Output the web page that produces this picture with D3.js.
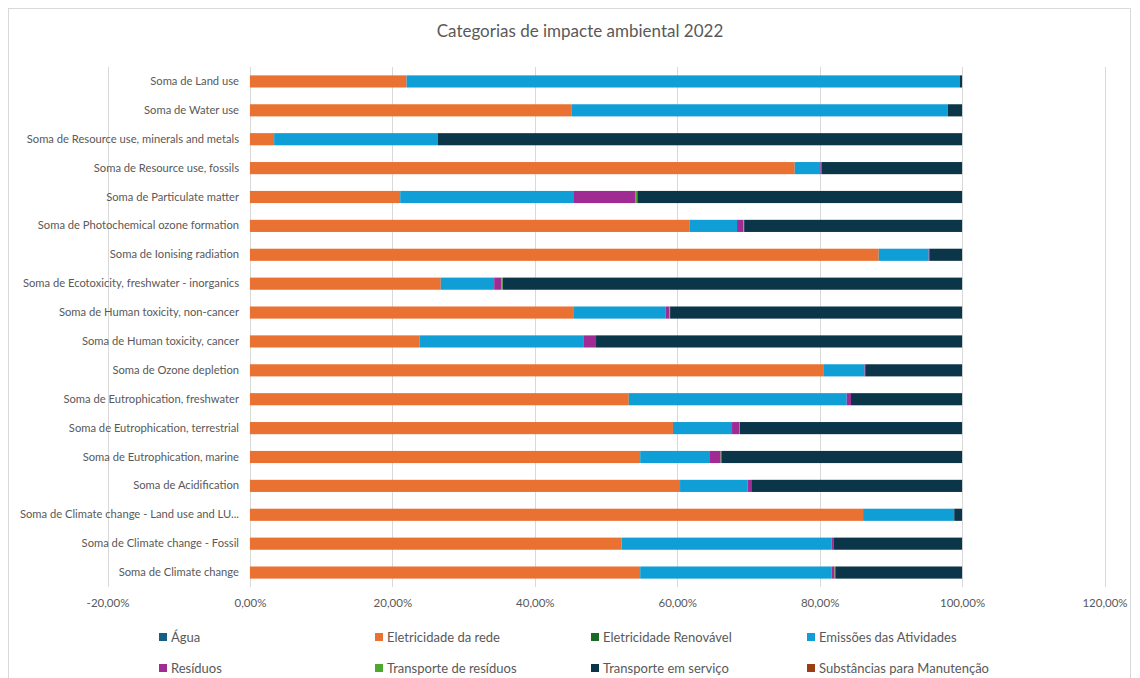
<!DOCTYPE html>
<html>
<head>
<meta charset="utf-8">
<script src="https://cdn.jsdelivr.net/npm/d3@7"></script>
<style>
  body { margin: 0; background: #fff; }
  svg { font-family: Lato, "Noto Sans", sans-serif; }
  .tick text { fill: #595959; }
</style>
</head>
<body>
<svg width="1140" height="678"></svg>
<script>
var categories = [
  "Soma de Land use",
  "Soma de Water use",
  "Soma de Resource use, minerals and metals",
  "Soma de Resource use, fossils",
  "Soma de Particulate matter",
  "Soma de Photochemical ozone formation",
  "Soma de Ionising radiation",
  "Soma de Ecotoxicity, freshwater - inorganics",
  "Soma de Human toxicity, non-cancer",
  "Soma de Human toxicity, cancer",
  "Soma de Ozone depletion",
  "Soma de Eutrophication, freshwater",
  "Soma de Eutrophication, terrestrial",
  "Soma de Eutrophication, marine",
  "Soma de Acidification",
  "Soma de Climate change - Land use and LU...",
  "Soma de Climate change - Fossil",
  "Soma de Climate change"
];

var seriesNames = ["Água", "Eletricidade da rede", "Eletricidade Renovável", "Emissões das Atividades",
  "Resíduos", "Transporte de resíduos", "Transporte em serviço", "Substâncias para Manutenção"];
var seriesColors = ["#156082", "#E97132", "#196B24", "#0F9ED5", "#A02B93", "#4EA72E", "#0B3649", "#9A3E12"];

// percentages, in category order
var agua        = [0, 0, 0, 0, 0, 0, 0, 0, 0, 0, 0, 0, 0, 0, 0, 0, 0, 0];
var eletRede    = [22.0, 45.2, 3.4, 76.5, 21.1, 61.7, 88.3, 26.8, 45.4, 23.8, 80.6, 53.2, 59.4, 54.8, 60.4, 86.1, 52.2, 54.8];
var eletRenov   = [0, 0, 0, 0, 0, 0, 0, 0, 0, 0, 0, 0, 0, 0, 0, 0, 0, 0];
var emissoes    = [77.7, 52.8, 23.0, 3.6, 24.3, 6.7, 7.0, 7.5, 13.0, 23.1, 5.7, 30.6, 8.3, 9.7, 9.5, 12.8, 29.5, 26.9];
var residuos    = [0, 0, 0, 0.2, 8.7, 0.9, 0.1, 1.0, 0.5, 1.7, 0.1, 0.6, 1.0, 1.6, 0.6, 0, 0.3, 0.4];
var transpRes   = [0, 0, 0, 0, 0.3, 0.1, 0, 0.2, 0.1, 0, 0, 0, 0.1, 0.1, 0, 0, 0, 0.1];
var transpServ  = [0.3, 2.0, 73.6, 19.7, 45.6, 30.6, 4.6, 64.5, 41.0, 51.4, 13.6, 15.6, 31.2, 33.8, 29.5, 1.1, 18.0, 17.8];
var substancias = [0, 0, 0, 0, 0, 0, 0, 0, 0, 0, 0, 0, 0, 0, 0, 0, 0, 0];

var xTicks = [-20, 0, 20, 40, 60, 80, 100, 120];

var seriesValues = [agua, eletRede, eletRenov, emissoes, residuos, transpRes, transpServ, substancias];

var svg = d3.select("svg");

// chart area border
svg.append("rect")
    .attr("x", 8.5).attr("y", 8.5)
    .attr("width", 1122).attr("height", 680)
    .attr("fill", "none")
    .attr("stroke", "#d9d9d9");

svg.append("text")
    .attr("x", 580).attr("y", 37)
    .attr("text-anchor", "middle")
    .attr("font-size", 17)
    .attr("fill", "#595959")
    .text("Categorias de impacte ambiental 2022");

var x = d3.scaleLinear().domain([-20, 120]).range([107.5, 1104.5]);
var y = d3.scaleBand().domain(categories).range([67, 587]).paddingInner(0.58).paddingOuter(0.29);

// gridlines
svg.append("g")
  .selectAll("line")
  .data(xTicks)
  .join("line")
    .attr("x1", function(d) { return Math.round(x(d)) + 0.5; })
    .attr("x2", function(d) { return Math.round(x(d)) + 0.5; })
    .attr("y1", 67).attr("y2", 587)
    .attr("stroke", "#d9d9d9");

var xAxis = svg.append("g")
    .attr("transform", "translate(0,592)")
    .call(d3.axisBottom(x).tickValues(xTicks).tickSize(0)
      .tickFormat(function(d) { return d.toFixed(2).replace(".", ",") + "%"; }));
xAxis.select(".domain").remove();
xAxis.selectAll("text").attr("font-size", 11.5).attr("font-family", "Lato, sans-serif").attr("dy", "1em");

var rows = categories.map(function(c, i) {
  var r = { cat: c };
  seriesNames.forEach(function(s, j) { r[s] = seriesValues[j][i]; });
  return r;
});
var stack = d3.stack().keys(seriesNames)(rows);

svg.append("g")
  .selectAll("g")
  .data(stack)
  .join("g")
    .attr("fill", function(d, i) { return seriesColors[i]; })
  .selectAll("rect")
  .data(function(d) { return d; })
  .join("rect")
    .attr("x", function(d) { return x(d[0]); })
    .attr("width", function(d) { return Math.max(0, x(d[1]) - x(d[0])); })
    .attr("y", function(d) { return y(d.data.cat); })
    .attr("height", y.bandwidth());

var yAxis = svg.append("g")
    .attr("transform", "translate(250,0)")
    .call(d3.axisLeft(y).tickSize(0).tickPadding(11));
yAxis.select(".domain").remove();
yAxis.selectAll("text").attr("font-size", 11.2).attr("font-family", "Lato, sans-serif");

// legend
var legend = svg.append("g")
  .selectAll("g")
  .data(seriesNames)
  .join("g")
    .attr("transform", function(d, i) {
      return "translate(" + (159 + (i % 4) * 216) + "," + (i < 4 ? 637 : 668) + ")";
    });
legend.append("rect")
    .attr("x", 0).attr("y", -4)
    .attr("width", 8).attr("height", 8)
    .attr("fill", function(d, i) { return seriesColors[i]; });
legend.append("text")
    .attr("x", 12).attr("dy", "0.35em")
    .attr("font-size", 13)
    .attr("fill", "#595959")
    .text(function(d) { return d; });
</script>
</body>
</html>
